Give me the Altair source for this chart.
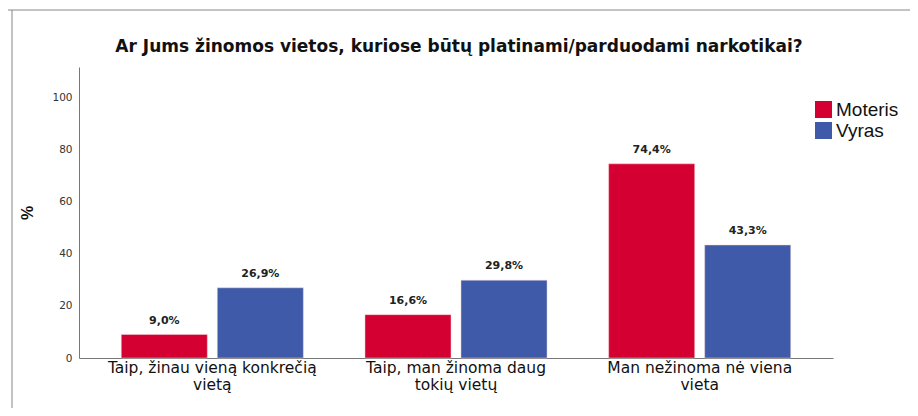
import altair as alt
import pandas as pd

title_text = "Ar Jums žinomos vietos, kuriose būtų platinami/parduodami narkotikai?"
categories = ["Taip, žinau vieną konkrečią\nvietą", "Taip, man žinoma daug\ntokių vietų", "Man nežinoma nė viena\nvieta"]
genders = ["Moteris", "Vyras"]
moteris = [9.0, 16.6, 74.4]
vyras = [26.9, 29.8, 43.3]
y_ticks = [0, 20, 40, 60, 80, 100]
colors = ["#d50032", "#3e5aa8"]

rows = []
for i, c in enumerate(categories):
    rows.append({"cat": c, "g": "Moteris", "v": moteris[i]})
    rows.append({"cat": c, "g": "Vyras", "v": vyras[i]})
df = pd.DataFrame(rows)
df["lab"] = df["v"].map(lambda v: f"{v:.1f}".replace(".", ",") + "%")

x_enc = alt.X("cat:N", sort=categories, title=None,
              scale=alt.Scale(paddingInner=0, paddingOuter=0.047),
              axis=alt.Axis(labelAngle=0, labelExpr="split(datum.label, '\\n')",
                            labelFontSize=15.5, labelColor="#111", labelFont="DejaVu Sans",
                            labelLineHeight=17, labelPadding=2, ticks=False,
                            domainColor="#777", labelLimit=300))
xo = alt.XOffset("g:N", sort=genders, scale=alt.Scale(paddingInner=0.104, paddingOuter=0.321))
y_enc = alt.Y("v:Q", scale=alt.Scale(domain=[0, 111.5], nice=False, zero=True),
              title="%",
              axis=alt.Axis(values=y_ticks, grid=False, ticks=False, domainColor="#777",
                            labelFontSize=10.5, labelColor="#333", labelPadding=7,
                            labelFont="DejaVu Sans",
                            titleFontSize=16, titleFontWeight="bold", titleColor="#111",
                            titleFont="Liberation Sans", titlePadding=16))

base = alt.Chart(df)
bars = base.mark_bar(stroke="#f2d6dc", strokeWidth=0.8, strokeOpacity=0.6).encode(
    x=x_enc, xOffset=xo, y=y_enc,
    color=alt.Color("g:N", sort=genders, scale=alt.Scale(domain=genders, range=colors),
                    legend=alt.Legend(title=None, orient="none", legendX=735, legendY=33,
                                      symbolType="square", symbolSize=290, symbolStrokeWidth=0,
                                      labelFontSize=19, labelColor="#111", labelFont="Liberation Sans",
                                      labelOffset=3, rowPadding=1))
)
texts = base.mark_text(baseline="bottom", dy=-9, fontSize=11, fontWeight="bold",
                       color="#222", font="DejaVu Sans").encode(
    x=alt.X("cat:N", sort=categories), xOffset=alt.XOffset("g:N", sort=genders), y="v:Q", text="lab:N"
)

one = pd.DataFrame({"t": [title_text]})
title_mark = alt.Chart(one).mark_text(fontSize=17, fontWeight="bold", font="DejaVu Sans",
                                      color="#111", align="center", baseline="alphabetic").encode(
    x=alt.value(380), y=alt.value(-15), text="t:N")
top_line = alt.Chart(one).mark_rule(color="#888", strokeWidth=1).encode(
    x=alt.value(-73), x2=alt.value(839), y=alt.value(-57))
left_line = alt.Chart(one).mark_rule(color="#888", strokeWidth=1).encode(
    x=alt.value(-67), y=alt.value(-57), y2=alt.value(349))

chart = alt.layer(bars, texts, title_mark, top_line, left_line).properties(
    width=754, height=291,
    autosize=alt.AutoSizeParams(type="none"),
    padding={"left": 71, "top": 59, "right": 77, "bottom": 50},
).configure_view(stroke=None)

chart.save("out.html", embed_options={"renderer": "svg", "actions": False})
